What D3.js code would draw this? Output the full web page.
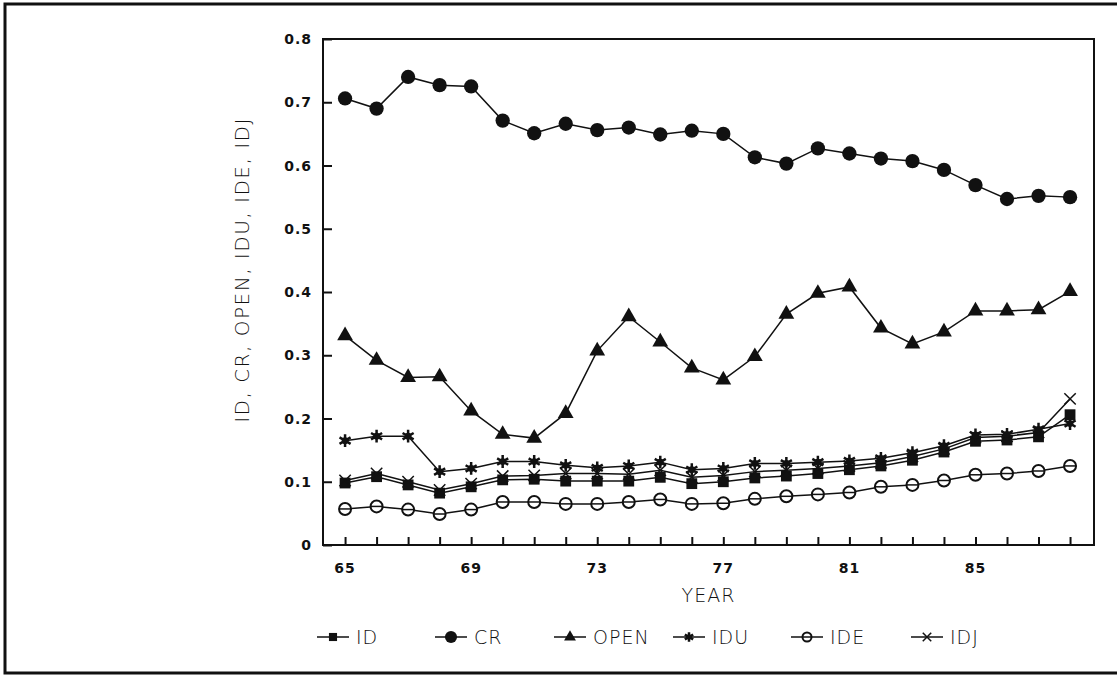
<!DOCTYPE html>
<meta charset="utf-8">
<html lang="en">
<head>
  <title>ID, CR, OPEN, IDU, IDE, IDJ by year</title>
  <script src="https://d3js.org/d3.v7.min.js"></script>
  <style>
    body { margin: 0; background: #fff; }
    .tick-label { font-family: "DejaVu Sans", sans-serif; font-size: 14px; font-weight: bold; fill: #111; letter-spacing: 1px; }
    .title { font-family: "DejaVu Sans", sans-serif; font-size: 19px; font-weight: 200; fill: #111; letter-spacing: 1px; }
    .ytitle { font-family: "DejaVu Sans", sans-serif; font-size: 20px; font-weight: 200; fill: #111; letter-spacing: 1.5px; }
  </style>
</head>
<body>
<div id="chart"></div>
<script>
// years 1965..1988
var years = d3.range(65, 89);
var yTicks = [0, 0.1, 0.2, 0.3, 0.4, 0.5, 0.6, 0.7, 0.8];
var xTickLabels = [65, 69, 73, 77, 81, 85];

var idVals   = [0.098, 0.108, 0.095, 0.082, 0.092, 0.103, 0.104, 0.101, 0.101, 0.101, 0.107, 0.097,
                0.100, 0.106, 0.109, 0.113, 0.119, 0.125, 0.134, 0.147, 0.164, 0.166, 0.171, 0.206];
var crVals   = [0.706, 0.690, 0.740, 0.727, 0.725, 0.671, 0.651, 0.666, 0.656, 0.660, 0.649, 0.655,
                0.650, 0.613, 0.603, 0.627, 0.619, 0.611, 0.607, 0.593, 0.569, 0.547, 0.552, 0.550];
var openVals = [0.331, 0.292, 0.265, 0.266, 0.212, 0.175, 0.169, 0.208, 0.307, 0.361, 0.321, 0.280,
                0.261, 0.298, 0.365, 0.398, 0.408, 0.343, 0.318, 0.337, 0.370, 0.370, 0.372, 0.401];
var iduVals  = [0.165, 0.172, 0.172, 0.116, 0.121, 0.132, 0.132, 0.126, 0.122, 0.125, 0.131, 0.119,
                0.121, 0.129, 0.129, 0.131, 0.133, 0.137, 0.146, 0.157, 0.174, 0.175, 0.183, 0.192];
var ideVals  = [0.057, 0.061, 0.056, 0.049, 0.056, 0.068, 0.068, 0.065, 0.065, 0.068, 0.072, 0.065,
                0.066, 0.073, 0.077, 0.080, 0.083, 0.092, 0.095, 0.102, 0.111, 0.113, 0.117, 0.125];
var idjVals  = [0.102, 0.113, 0.100, 0.087, 0.097, 0.109, 0.110, 0.113, 0.113, 0.112, 0.118, 0.107,
                0.110, 0.116, 0.118, 0.121, 0.125, 0.130, 0.140, 0.152, 0.170, 0.172, 0.178, 0.231];

var series = [
  {name: "ID",   values: idVals,   mark: "square"},
  {name: "CR",   values: crVals,   mark: "circle"},
  {name: "OPEN", values: openVals, mark: "triangle"},
  {name: "IDU",  values: iduVals,  mark: "star"},
  {name: "IDE",  values: ideVals,  mark: "ring"},
  {name: "IDJ",  values: idjVals,  mark: "times"}
];

var W = 1117, H = 675;
var svg = d3.select("#chart").append("svg")
  .attr("width", W).attr("height", H);

// outer frame (right edge runs off the page)
svg.append("path")
  .attr("d", "M1125,4 H5 V673 H1125")
  .attr("fill", "none").attr("stroke", "#111").attr("stroke-width", 3);

var x = d3.scaleLinear().domain([64.3, 88.76]).range([323, 1094]);
var y = d3.scaleLinear().domain([0, 0.8]).range([545, 39]);

// plot box
svg.append("rect")
  .attr("x", x.range()[0]).attr("y", y.range()[1])
  .attr("width", x.range()[1] - x.range()[0])
  .attr("height", y.range()[0] - y.range()[1])
  .attr("fill", "none").attr("stroke", "#111").attr("stroke-width", 2);

// y axis: ticks point inward
var yAxis = svg.append("g")
  .attr("transform", "translate(" + x.range()[0] + ",0)")
  .call(d3.axisRight(y).tickValues(yTicks).tickSize(9).tickFormat(""));
yAxis.select(".domain").remove();
yAxis.selectAll("line").attr("stroke", "#111").attr("stroke-width", 2);

svg.append("g").selectAll("text")
  .data(yTicks)
  .enter().append("text")
    .attr("class", "tick-label")
    .attr("x", 312)
    .attr("y", function(d) { return y(d) + 5; })
    .attr("text-anchor", "end")
    .text(function(d) { return d === 0 ? "0" : d3.format(".1f")(d); });

// x axis: a tick each year, pointing up
var xAxis = svg.append("g")
  .attr("transform", "translate(0," + y.range()[0] + ")")
  .call(d3.axisTop(x).tickValues(years).tickSize(8).tickFormat(""));
xAxis.select(".domain").remove();
xAxis.selectAll("line").attr("stroke", "#111").attr("stroke-width", 2);

svg.append("g").selectAll("text")
  .data(xTickLabels)
  .enter().append("text")
    .attr("class", "tick-label")
    .attr("x", function(d) { return x(d); })
    .attr("y", 573)
    .attr("text-anchor", "middle")
    .text(function(d) { return d; });

// axis titles
svg.append("text")
  .attr("class", "title")
  .attr("x", (x.range()[0] + x.range()[1]) / 2)
  .attr("y", 602)
  .attr("text-anchor", "middle")
  .text("YEAR");

svg.append("text")
  .attr("class", "ytitle")
  .attr("transform", "translate(249,270) rotate(-90)")
  .attr("text-anchor", "middle")
  .text("ID, CR, OPEN, IDU, IDE, IDJ");

// marker drawing
function drawMark(g, mark, s) {
  if (mark === "square") {
    g.append("rect").attr("x", -s * 0.45).attr("y", -s * 0.45)
      .attr("width", s * 0.9).attr("height", s * 0.9).attr("fill", "#111");
  } else if (mark === "circle") {
    g.append("circle").attr("r", s * 0.55).attr("fill", "#111");
  } else if (mark === "triangle") {
    g.append("path").attr("d", d3.symbol(d3.symbolTriangle, s * s * 0.75)()).attr("fill", "#111");
  } else if (mark === "star") {
    g.append("path").attr("d", d3.symbol(d3.symbolAsterisk, s * s * 0.8)())
      .attr("stroke", "#111").attr("stroke-width", 2.5).attr("fill", "none");
    g.append("circle").attr("r", s * 0.28).attr("fill", "#111");
  } else if (mark === "ring") {
    g.append("circle").attr("r", s * 0.5).attr("fill", "#fff")
      .attr("stroke", "#111").attr("stroke-width", 2);
    g.append("line").attr("x1", -s * 0.5).attr("x2", s * 0.5)
      .attr("stroke", "#111").attr("stroke-width", 1.5);
  } else if (mark === "times") {
    g.append("path").attr("d", d3.symbol(d3.symbolTimes, s * s * 0.6)())
      .attr("stroke", "#111").attr("stroke-width", 1.5).attr("fill", "none");
  }
}

var line = d3.line()
  .x(function(d, i) { return x(years[i]); })
  .y(function(d) { return y(d); });

// draw in back-to-front order
var drawOrder = ["IDE", "ID", "IDJ", "IDU", "OPEN", "CR"];
drawOrder.forEach(function(name) {
  var s = series.find(function(d) { return d.name === name; });
  svg.append("path")
    .attr("d", line(s.values))
    .attr("fill", "none").attr("stroke", "#111").attr("stroke-width", 1.5);
  var size = s.mark === "circle" ? 13 : 12;
  s.values.forEach(function(v, i) {
    var g = svg.append("g").attr("transform", "translate(" + x(years[i]) + "," + y(v) + ")");
    drawMark(g, s.mark, size);
  });
});

// legend
var legendX = [333, 451, 570, 689, 807, 927];
series.forEach(function(s, i) {
  var g = svg.append("g").attr("transform", "translate(" + legendX[i] + ",637)");
  g.append("line").attr("x1", -16).attr("x2", 16)
    .attr("stroke", "#111").attr("stroke-width", 1.5);
  drawMark(g, s.mark, s.mark === "circle" ? 11 : 9);
  g.append("text").attr("class", "title")
    .attr("x", 23).attr("y", 7)
    .text(s.name);
});
</script>
</body>
</html>
